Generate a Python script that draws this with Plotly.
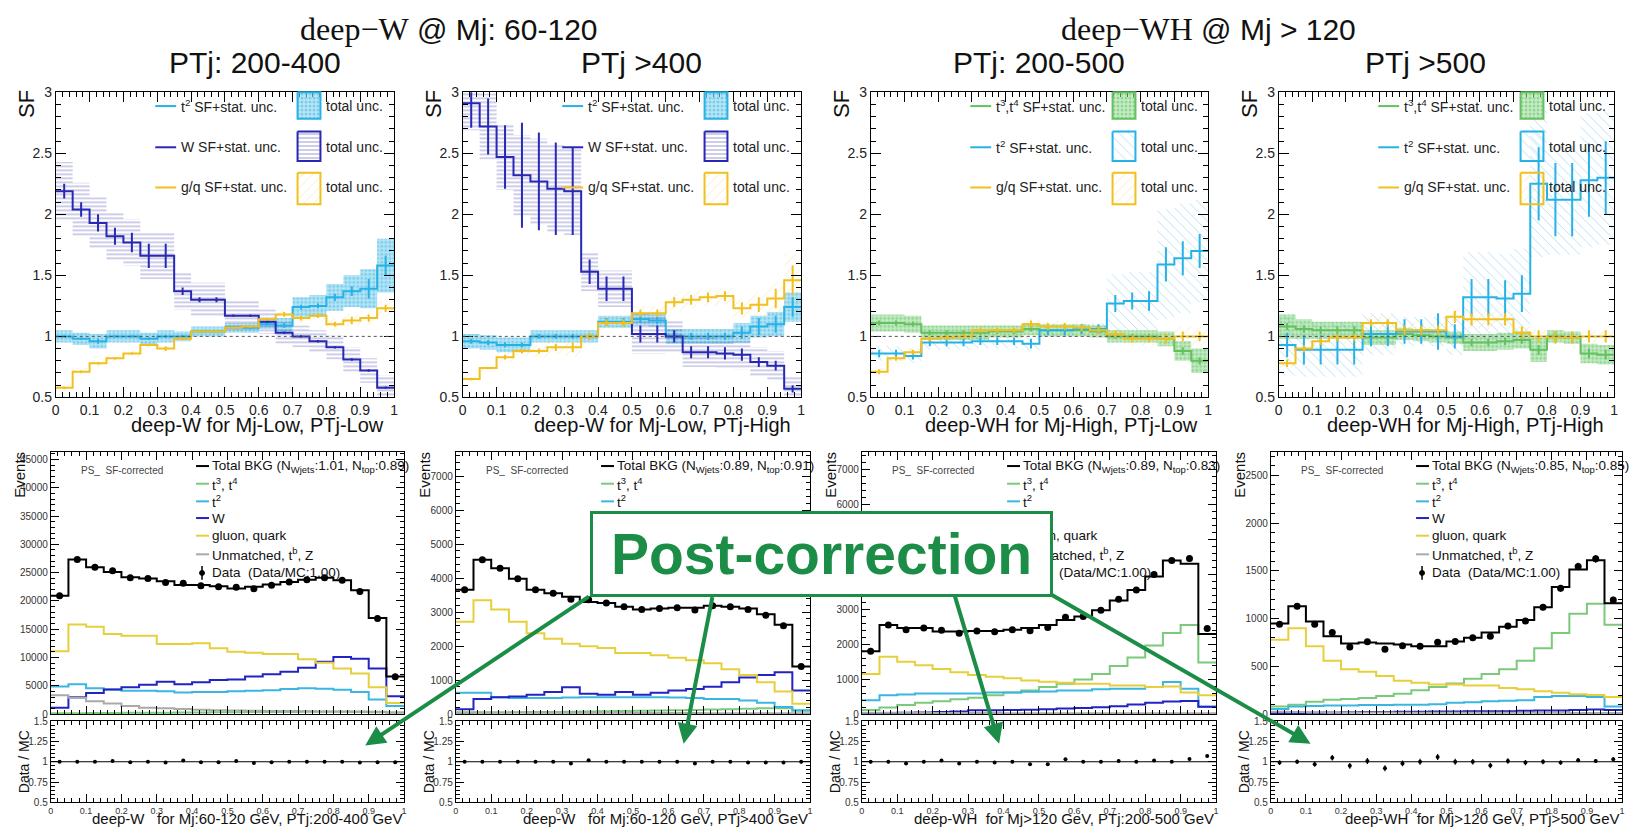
import plotly.graph_objects as go

FIG_W, FIG_H = 1638, 835
SANS = "Liberation Sans, Arial, Helvetica, sans-serif"
SERIF = "Liberation Serif, DejaVu Serif, Times New Roman, serif"
GREEN = "#1b8d47"

# 20 uniform bins of the tagger score
EDGES = [0.0, 0.05, 0.10, 0.15, 0.20, 0.25, 0.30, 0.35, 0.40, 0.45, 0.50,
         0.55, 0.60, 0.65, 0.70, 0.75, 0.80, 0.85, 0.90, 0.95, 1.0]
CENTERS = [0.025, 0.075, 0.125, 0.175, 0.225, 0.275, 0.325, 0.375, 0.425, 0.475,
           0.525, 0.575, 0.625, 0.675, 0.725, 0.775, 0.825, 0.875, 0.925, 0.975]

# ---------------- scale factors: deep-W, Mj 60-120, PTj 200-400 ----------------
sf1_t2 = [1.00, 0.98, 0.96, 1.00, 1.00, 0.98, 1.00, 1.00, 1.04, 1.04, 1.07, 1.07, 1.10, 1.09, 1.24, 1.25, 1.32, 1.37, 1.39, 1.58]
sf1_t2_stat = [0.01, 0.01, 0.02, 0.01, 0.01, 0.01, 0.01, 0.01, 0.01, 0.01, 0.01, 0.01, 0.01, 0.02, 0.02, 0.02, 0.03, 0.04, 0.08, 0.08]
sf1_t2_tot = [0.05, 0.05, 0.06, 0.05, 0.05, 0.05, 0.05, 0.04, 0.04, 0.04, 0.04, 0.04, 0.04, 0.06, 0.08, 0.09, 0.11, 0.13, 0.16, 0.22]
sf1_w = [2.19, 2.04, 1.93, 1.82, 1.77, 1.66, 1.66, 1.37, 1.30, 1.30, 1.17, 1.17, 1.12, 1.03, 1.00, 0.96, 0.91, 0.81, 0.72, 0.58]
sf1_w_stat = [0.06, 0.06, 0.07, 0.07, 0.08, 0.10, 0.10, 0.03, 0.02, 0.02, 0.01, 0.01, 0.01, 0.01, 0.01, 0.01, 0.01, 0.01, 0.01, 0.01]
sf1_w_tot = [0.24, 0.22, 0.21, 0.20, 0.19, 0.19, 0.19, 0.15, 0.14, 0.14, 0.12, 0.12, 0.10, 0.09, 0.09, 0.09, 0.10, 0.10, 0.10, 0.10]
sf1_gq = [0.58, 0.71, 0.78, 0.82, 0.86, 0.93, 0.90, 0.98, 1.04, 1.04, 1.07, 1.08, 1.14, 1.18, 1.15, 1.17, 1.10, 1.13, 1.15, 1.23]
sf1_gq_stat = [0.01, 0.01, 0.01, 0.01, 0.01, 0.01, 0.02, 0.01, 0.01, 0.01, 0.01, 0.01, 0.01, 0.02, 0.02, 0.02, 0.02, 0.03, 0.03, 0.03]
sf1_gq_tot = [0.03, 0.03, 0.03, 0.03, 0.03, 0.03, 0.03, 0.03, 0.03, 0.03, 0.03, 0.03, 0.03, 0.04, 0.04, 0.04, 0.05, 0.05, 0.06, 0.06]

# ---------------- scale factors: deep-W, Mj 60-120, PTj > 400 ----------------
sf2_t2 = [0.96, 0.95, 0.93, 0.93, 1.00, 1.00, 1.00, 1.00, 1.12, 1.12, 1.14, 1.13, 1.00, 1.00, 1.00, 1.00, 1.03, 1.08, 1.10, 1.24]
sf2_t2_stat = [0.02, 0.02, 0.02, 0.02, 0.02, 0.02, 0.02, 0.02, 0.03, 0.03, 0.03, 0.03, 0.03, 0.03, 0.03, 0.03, 0.05, 0.07, 0.07, 0.08]
sf2_t2_tot = [0.06, 0.06, 0.06, 0.06, 0.05, 0.05, 0.05, 0.05, 0.05, 0.05, 0.05, 0.05, 0.06, 0.06, 0.06, 0.06, 0.08, 0.09, 0.10, 0.12]
sf2_w = [2.91, 2.72, 2.47, 2.32, 2.27, 2.21, 2.19, 1.53, 1.39, 1.39, 1.02, 1.02, 1.00, 0.87, 0.87, 0.86, 0.85, 0.79, 0.76, 0.57]
sf2_w_stat = [0.20, 0.23, 0.26, 0.43, 0.40, 0.38, 0.36, 0.10, 0.10, 0.10, 0.07, 0.07, 0.05, 0.05, 0.05, 0.05, 0.05, 0.04, 0.04, 0.03]
sf2_w_tot = [0.22, 0.27, 0.27, 0.33, 0.35, 0.36, 0.36, 0.16, 0.15, 0.15, 0.16, 0.16, 0.13, 0.12, 0.12, 0.12, 0.12, 0.12, 0.12, 0.10]
sf2_gq = [0.65, 0.74, 0.83, 0.88, 0.88, 0.91, 0.91, 1.00, 1.11, 1.11, 1.19, 1.19, 1.28, 1.30, 1.32, 1.33, 1.23, 1.26, 1.31, 1.46]
sf2_gq_stat = [0.01, 0.01, 0.02, 0.02, 0.02, 0.03, 0.04, 0.03, 0.03, 0.03, 0.03, 0.03, 0.04, 0.04, 0.04, 0.04, 0.05, 0.06, 0.08, 0.12]
sf2_gq_tot = [0.03, 0.03, 0.04, 0.04, 0.05, 0.06, 0.07, 0.05, 0.05, 0.05, 0.06, 0.06, 0.07, 0.07, 0.07, 0.07, 0.08, 0.10, 0.14, 0.22]

# ---------------- scale factors: deep-WH, Mj > 120, PTj 200-500 ----------------
sf3_t34 = [1.11, 1.11, 1.10, 1.03, 1.03, 1.03, 1.03, 1.04, 1.04, 1.06, 1.05, 1.05, 1.05, 1.04, 1.00, 1.00, 1.00, 0.98, 0.88, 0.80]
sf3_t34_stat = [0.02, 0.02, 0.02, 0.02, 0.02, 0.02, 0.02, 0.02, 0.02, 0.02, 0.02, 0.02, 0.02, 0.02, 0.02, 0.02, 0.02, 0.03, 0.03, 0.03]
sf3_t34_tot = [0.07, 0.07, 0.07, 0.06, 0.06, 0.06, 0.06, 0.05, 0.05, 0.05, 0.05, 0.05, 0.05, 0.05, 0.05, 0.05, 0.05, 0.06, 0.08, 0.10]
sf3_t2 = [0.86, 0.86, 0.84, 0.95, 0.95, 0.95, 0.96, 0.96, 0.96, 0.94, 1.05, 1.05, 1.06, 1.06, 1.27, 1.29, 1.29, 1.59, 1.64, 1.70]
sf3_t2_stat = [0.03, 0.03, 0.03, 0.03, 0.03, 0.03, 0.03, 0.03, 0.03, 0.04, 0.04, 0.04, 0.04, 0.04, 0.07, 0.07, 0.08, 0.14, 0.14, 0.14]
sf3_t2_tot = [0.06, 0.06, 0.06, 0.06, 0.06, 0.06, 0.06, 0.06, 0.06, 0.06, 0.05, 0.05, 0.05, 0.05, 0.24, 0.24, 0.24, 0.45, 0.45, 0.42]
sf3_gq = [0.71, 0.82, 0.87, 0.98, 0.99, 1.00, 1.05, 1.05, 1.05, 1.10, 1.08, 1.08, 1.07, 1.05, 1.02, 0.98, 0.98, 0.98, 1.00, 1.00]
sf3_gq_stat = [0.02, 0.02, 0.02, 0.02, 0.02, 0.02, 0.02, 0.02, 0.02, 0.03, 0.03, 0.03, 0.03, 0.03, 0.03, 0.03, 0.03, 0.04, 0.04, 0.04]
sf3_gq_tot = [0.03, 0.04, 0.04, 0.05, 0.05, 0.05, 0.05, 0.05, 0.05, 0.05, 0.05, 0.05, 0.05, 0.05, 0.05, 0.06, 0.06, 0.07, 0.08, 0.08]

# ---------------- scale factors: deep-WH, Mj > 120, PTj > 500 ----------------
sf4_t34 = [1.08, 1.06, 1.05, 1.05, 1.05, 0.99, 0.99, 1.02, 1.01, 1.00, 0.99, 0.95, 0.95, 0.96, 0.97, 0.89, 1.00, 0.99, 0.86, 0.85]
sf4_t34_stat = [0.03, 0.03, 0.03, 0.03, 0.03, 0.03, 0.03, 0.03, 0.03, 0.03, 0.03, 0.03, 0.03, 0.03, 0.03, 0.04, 0.04, 0.04, 0.04, 0.04]
sf4_t34_tot = [0.10, 0.08, 0.07, 0.07, 0.07, 0.06, 0.06, 0.05, 0.05, 0.05, 0.05, 0.07, 0.07, 0.07, 0.07, 0.10, 0.05, 0.05, 0.08, 0.08]
sf4_t2 = [0.93, 0.89, 0.89, 0.89, 0.89, 1.02, 1.02, 1.04, 1.04, 1.04, 1.00, 1.32, 1.32, 1.31, 1.35, 2.25, 2.12, 2.12, 2.28, 2.30]
sf4_t2_stat = [0.10, 0.12, 0.12, 0.12, 0.12, 0.10, 0.10, 0.10, 0.10, 0.15, 0.10, 0.15, 0.15, 0.15, 0.15, 0.30, 0.30, 0.30, 0.30, 0.30]
sf4_t2_tot = [0.25, 0.22, 0.22, 0.22, 0.22, 0.17, 0.17, 0.12, 0.12, 0.12, 0.15, 0.37, 0.37, 0.37, 0.37, 0.60, 0.45, 0.45, 0.55, 0.55]
sf4_gq = [0.78, 0.90, 0.96, 0.99, 0.99, 1.11, 1.11, 1.05, 1.05, 1.05, 1.16, 1.14, 1.14, 1.14, 1.03, 1.00, 0.99, 0.99, 1.00, 1.00]
sf4_gq_stat = [0.03, 0.03, 0.03, 0.03, 0.03, 0.03, 0.03, 0.04, 0.04, 0.04, 0.05, 0.05, 0.05, 0.05, 0.05, 0.05, 0.05, 0.05, 0.05, 0.05]
sf4_gq_tot = [0.04, 0.05, 0.05, 0.05, 0.05, 0.06, 0.06, 0.06, 0.06, 0.06, 0.08, 0.08, 0.08, 0.08, 0.06, 0.05, 0.05, 0.05, 0.05, 0.05]

# ---------------- corrected yields per category ----------------
h1_total = [20900, 27300, 25950, 25100, 24200, 23950, 23500, 22800, 22800, 22600, 22200, 22500, 22900, 23350, 23750, 24100, 23650, 21900, 17000, 6650]
h1_t34 = [150, 170, 200, 210, 240, 250, 270, 290, 310, 330, 350, 380, 390, 410, 430, 460, 470, 490, 440, 310]
h1_t2 = [4900, 5300, 4600, 4350, 4150, 4150, 4050, 3850, 3900, 3900, 4050, 4150, 4250, 4450, 4600, 4500, 4300, 3900, 2600, 1450]
h1_w = [1150, 3000, 3750, 4350, 4750, 5200, 5750, 5300, 5650, 6050, 6150, 6650, 7050, 7500, 8200, 9250, 10100, 9800, 8050, 3150]
h1_gq = [11100, 15850, 15450, 14150, 13850, 13850, 12400, 12400, 12550, 11650, 11050, 10850, 10650, 10650, 9700, 9100, 8050, 7200, 4750, 2000]
h1_unm = [3350, 2900, 2300, 1900, 1450, 1150, 1050, 900, 800, 700, 650, 600, 550, 550, 500, 450, 420, 400, 350, 300]

h2_total = [3660, 4540, 4290, 3980, 3660, 3560, 3450, 3300, 3270, 3160, 3080, 3110, 3130, 3130, 3190, 3160, 3110, 2940, 2630, 1400]
h2_t34 = [35, 45, 50, 58, 62, 66, 72, 78, 84, 92, 98, 106, 116, 124, 138, 148, 160, 172, 178, 105]
h2_t2 = [630, 630, 500, 480, 480, 480, 490, 500, 500, 500, 500, 500, 490, 480, 450, 450, 400, 340, 210, 115]
h2_w = [145, 450, 500, 520, 570, 650, 790, 600, 570, 650, 570, 630, 700, 740, 810, 940, 1080, 1150, 1230, 700]
h2_gq = [2720, 3350, 3080, 2720, 2380, 2220, 2070, 2000, 1950, 1800, 1800, 1730, 1660, 1590, 1500, 1320, 1150, 940, 670, 310]
h2_unm = [60, 55, 50, 50, 45, 45, 40, 40, 40, 40, 35, 35, 35, 35, 30, 30, 30, 30, 30, 25]

h3_total = [1800, 2550, 2460, 2460, 2360, 2360, 2380, 2380, 2410, 2460, 2550, 2690, 2790, 2970, 3250, 3550, 3930, 4390, 4300, 2290]
h3_t34 = [120, 190, 260, 330, 370, 430, 470, 540, 620, 680, 780, 870, 990, 1150, 1380, 1620, 1960, 2320, 2550, 1480]
h3_t2 = [400, 540, 560, 590, 590, 590, 590, 620, 620, 640, 650, 680, 680, 710, 730, 730, 780, 920, 730, 210]
h3_w = [30, 35, 40, 50, 60, 80, 110, 115, 120, 130, 140, 160, 180, 200, 230, 280, 330, 360, 380, 210]
h3_gq = [1150, 1640, 1500, 1400, 1290, 1200, 1120, 1070, 1030, 960, 930, 900, 870, 870, 820, 820, 780, 790, 620, 540]
h3_unm = [40, 40, 40, 40, 35, 35, 35, 35, 30, 30, 30, 30, 30, 30, 30, 30, 30, 30, 30, 30]

h4_total = [950, 1130, 970, 815, 740, 750, 740, 730, 710, 710, 760, 800, 855, 915, 985, 1120, 1330, 1515, 1610, 1160]
h4_t34 = [80, 100, 130, 150, 160, 170, 190, 215, 250, 285, 320, 370, 420, 470, 560, 690, 850, 1050, 1155, 935]
h4_t2 = [55, 80, 85, 90, 90, 95, 95, 100, 100, 105, 120, 125, 135, 140, 145, 180, 190, 190, 180, 80]
h4_w = [10, 12, 15, 18, 20, 22, 22, 25, 25, 28, 28, 30, 30, 32, 35, 38, 40, 45, 50, 45]
h4_gq = [780, 900, 710, 560, 470, 445, 400, 350, 330, 310, 310, 300, 300, 275, 260, 240, 225, 210, 200, 180]
h4_unm = [25, 22, 20, 20, 18, 18, 18, 16, 16, 15, 15, 15, 15, 14, 14, 14, 14, 13, 13, 12]

# ---------------- Data / MC ratio and its uncertainty ----------------
r1 = [1.00, 1.00, 1.00, 1.01, 0.995, 1.00, 0.99, 1.015, 0.995, 0.995, 1.01, 0.985, 0.995, 1.00, 1.00, 1.00, 1.00, 0.99, 0.995, 0.995]
r1_err = [0.005, 0.005, 0.005, 0.005, 0.005, 0.005, 0.005, 0.005, 0.005, 0.005, 0.005, 0.005, 0.005, 0.005, 0.005, 0.005, 0.005, 0.005, 0.006, 0.01]
r2 = [1.00, 1.00, 1.00, 1.00, 1.00, 1.00, 0.98, 1.02, 1.00, 1.00, 1.00, 1.00, 1.00, 0.98, 1.00, 1.00, 0.99, 0.99, 0.99, 1.00]
r2_err = [0.012, 0.01, 0.01, 0.012, 0.012, 0.012, 0.012, 0.012, 0.012, 0.012, 0.012, 0.012, 0.012, 0.012, 0.012, 0.012, 0.012, 0.012, 0.014, 0.02]
r3 = [1.00, 1.00, 0.98, 1.00, 1.015, 0.98, 1.00, 0.99, 1.00, 0.97, 0.97, 1.03, 1.00, 1.00, 1.01, 1.00, 1.015, 1.00, 1.035, 1.07]
r3_err = [0.02, 0.017, 0.017, 0.017, 0.017, 0.017, 0.017, 0.017, 0.017, 0.017, 0.017, 0.017, 0.016, 0.016, 0.015, 0.014, 0.013, 0.012, 0.012, 0.017]
r4 = [0.99, 1.00, 0.97, 1.05, 0.95, 1.01, 0.92, 0.98, 1.00, 1.06, 1.00, 1.00, 0.955, 1.01, 0.99, 1.00, 0.99, 1.02, 1.01, 1.03]
r4_err = [0.03, 0.028, 0.03, 0.034, 0.036, 0.036, 0.036, 0.036, 0.037, 0.037, 0.036, 0.035, 0.034, 0.033, 0.032, 0.03, 0.027, 0.025, 0.025, 0.029]

# ---------------- text ----------------
GROUP_TITLES = [("deep−W", "@ Mj: 60-120"), ("deep−WH", "@ Mj > 120")]
PT_TITLES = ["PTj: 200-400", "PTj >400", "PTj: 200-500", "PTj >500"]
SF_XTITLES = ["deep-W for Mj-Low, PTj-Low", "deep-W for Mj-Low, PTj-High",
              "deep-WH for Mj-High, PTj-Low", "deep-WH for Mj-High, PTj-High"]
HIST_XTITLES = ["deep-W\u00a0\u00a0\u00a0for Mj:60-120 GeV, PTj:200-400 GeV",
                "deep-W\u00a0\u00a0\u00a0for Mj:60-120 GeV, PTj>400 GeV",
                "deep-WH\u00a0\u00a0for Mj>120 GeV, PTj:200-500 GeV",
                "deep-WH\u00a0\u00a0for Mj>120 GeV, PTj>500 GeV"]
NORM_WJETS = ["1.01", "0.89", "0.89", "0.85"]
NORM_TOP = ["0.89", "0.91", "0.83", "0.85"]
SF_LABELS = {"t2": "t<sup>2</sup> SF+stat. unc.", "w": "W SF+stat. unc.",
             "gq": "g/q SF+stat. unc.", "t34": "t<sup>3</sup>,t<sup>4</sup> SF+stat. unc."}

# ---------------- geometry (pixels) ----------------
SF_X = [(52, 392), (461, 801), (871, 1210), (1281, 1618)]
SF_Y = (86, 397)
HIST_X = [(47, 402), (454, 810), (862, 1218), (1273, 1626)]
HIST_Y = (453, 720)
RATIO_Y = (727, 810)
HIST_YMAX = [46250, 7700, 7480, 2740]
HIST_DTICK = [5000, 1000, 1000, 500]
HIST_MINOR = [1000, 200, 200, 100]
PT_TITLE_X = [252, 641, 1040, 1428]
GROUP_TITLE_X = [447, 1210]

# ---------------- styles ----------------
SF_COL = {"t2": "#27b2e6", "w": "#2828b4", "gq": "#f1c01f", "t34": "#63c15f"}
BAND = {
    "dots_t2": dict(shape=".", fgcolor="#3ab4e0", bgcolor="rgba(140,214,240,0.6)", size=4, solidity=0.45),
    "hatch_t2": dict(shape="\\", fgcolor="rgba(45,170,225,0.8)", bgcolor="rgba(255,255,255,0)", size=7, solidity=0.12),
    "w": dict(shape="-", fgcolor="rgba(45,45,160,0.8)", bgcolor="rgba(255,255,255,0)", size=4, solidity=0.3),
    "gq": dict(shape="/", fgcolor="rgba(240,190,30,0.65)", bgcolor="rgba(255,255,255,0)", size=7, solidity=0.12),
    "t34": dict(shape=".", fgcolor="#62c062", bgcolor="rgba(150,220,150,0.55)", size=4, solidity=0.45),
}
H_COL = {"t34": "#7bc97b", "t2": "#3ab6e2", "w": "#2323c2", "gq": "#e7cf3c", "unm": "#a9a9a9", "total": "#000000"}

SF_PANELS = [
    [("t2", sf1_t2, sf1_t2_stat, sf1_t2_tot, "dots_t2"), ("w", sf1_w, sf1_w_stat, sf1_w_tot, "w"),
     ("gq", sf1_gq, sf1_gq_stat, sf1_gq_tot, "gq")],
    [("t2", sf2_t2, sf2_t2_stat, sf2_t2_tot, "dots_t2"), ("w", sf2_w, sf2_w_stat, sf2_w_tot, "w"),
     ("gq", sf2_gq, sf2_gq_stat, sf2_gq_tot, "gq")],
    [("t34", sf3_t34, sf3_t34_stat, sf3_t34_tot, "t34"), ("t2", sf3_t2, sf3_t2_stat, sf3_t2_tot, "hatch_t2"),
     ("gq", sf3_gq, sf3_gq_stat, sf3_gq_tot, "gq")],
    [("t34", sf4_t34, sf4_t34_stat, sf4_t34_tot, "t34"), ("t2", sf4_t2, sf4_t2_stat, sf4_t2_tot, "hatch_t2"),
     ("gq", sf4_gq, sf4_gq_stat, sf4_gq_tot, "gq")],
]
HIST_PANELS = [
    dict(t34=h1_t34, t2=h1_t2, w=h1_w, gq=h1_gq, unm=h1_unm, total=h1_total, ratio=r1, rerr=r1_err),
    dict(t34=h2_t34, t2=h2_t2, w=h2_w, gq=h2_gq, unm=h2_unm, total=h2_total, ratio=r2, rerr=r2_err),
    dict(t34=h3_t34, t2=h3_t2, w=h3_w, gq=h3_gq, unm=h3_unm, total=h3_total, ratio=r3, rerr=r3_err),
    dict(t34=h4_t34, t2=h4_t2, w=h4_w, gq=h4_gq, unm=h4_unm, total=h4_total, ratio=r4, rerr=r4_err),
]


def fx(px):
    return px / FIG_W


def fy(py):
    return 1 - py / FIG_H


def ax_names(n):
    s = "" if n == 1 else str(n)
    return "xaxis" + s, "yaxis" + s, "x" + s, "y" + s


def step_y(vals):
    return list(vals) + [vals[-1]]


def band_xy(vals, unc):
    xs, ys = [], []
    for i, v in enumerate(vals):
        xs += [EDGES[i], EDGES[i + 1]]
        ys += [v + unc[i], v + unc[i]]
    for i in range(len(vals) - 1, -1, -1):
        xs += [EDGES[i + 1], EDGES[i]]
        ys += [vals[i] - unc[i], vals[i] - unc[i]]
    return xs + [xs[0]], ys + [ys[0]]


def bars_xy(vals, err):
    xs, ys = [], []
    for c, v, e in zip(CENTERS, vals, err):
        xs += [c, c, None]
        ys += [v - e, v + e, None]
    return xs, ys


def label(text, px, py, size, xanchor="center", yanchor="middle", color="#111", family=SANS, **kw):
    d = dict(text=text, x=fx(px), y=fy(py), xref="paper", yref="paper",
             xanchor=xanchor, yanchor=yanchor, showarrow=False,
             font=dict(family=family, size=size, color=color))
    d.update(kw)
    return d


def frame_axis(**kw):
    base = dict(showline=True, linecolor="black", linewidth=1, mirror="allticks",
                ticks="inside", ticklen=9, tickwidth=1, tickcolor="black",
                showgrid=False, zeroline=False, fixedrange=True,
                tickfont=dict(family=SANS, size=13, color="#222"))
    base.update(kw)
    return base


fig = go.Figure()
layout = {}
shapes = []
annotations = []

# ---------------- scale-factor panels ----------------
for i, series in enumerate(SF_PANELS):
    n = i + 1
    xk, yk, xr, yr = ax_names(n)
    l, r = SF_X[i]
    layout[xk] = frame_axis(domain=[fx(l), fx(r)], anchor=yr, range=[0, 1], dtick=0.1, tick0=0,
                            ticklen=10, tickfont=dict(family=SANS, size=14, color="#222"),
                            minor=dict(dtick=0.02, ticks="inside", ticklen=5, tickcolor="black"))
    layout[yk] = frame_axis(domain=[fy(SF_Y[1]), fy(SF_Y[0])], anchor=xr, range=[0.5, 3], dtick=0.5, tick0=0.5,
                            ticklen=10, tickfont=dict(family=SANS, size=14, color="#222"),
                            minor=dict(dtick=0.1, ticks="inside", ticklen=5, tickcolor="black"))
    for key, vals, stat, tot, bstyle in series:
        bx, by = band_xy(vals, tot)
        fig.add_trace(go.Scatter(x=bx, y=by, xaxis=xr, yaxis=yr, mode="none", fill="toself",
                                 fillcolor=BAND[bstyle]["bgcolor"], fillpattern=BAND[bstyle],
                                 hoverinfo="skip", showlegend=False))
    for key, vals, stat, tot, bstyle in series:
        fig.add_trace(go.Scatter(x=EDGES, y=step_y(vals), xaxis=xr, yaxis=yr, mode="lines",
                                 line=dict(color=SF_COL[key], width=2, shape="hv"),
                                 hoverinfo="skip", showlegend=False))
        ex, ey = bars_xy(vals, stat)
        fig.add_trace(go.Scatter(x=ex, y=ey, xaxis=xr, yaxis=yr, mode="lines",
                                 line=dict(color=SF_COL[key], width=2),
                                 hoverinfo="skip", showlegend=False))
    shapes.append(dict(type="line", xref=xr, yref=yr, x0=0, x1=1, y0=1, y1=1,
                       line=dict(color="#555", width=1, dash="dot"), layer="above"))
    # axis titles and panel title
    annotations.append(label("SF", l - 30, 98, 22, textangle=-90))
    annotations.append(label(SF_XTITLES[i], r - 8, 425, 20, xanchor="right"))
    annotations.append(label(PT_TITLES[i], PT_TITLE_X[i], 56, 30))
    # legend block: line sample + label, then total-unc. swatch
    rows_y = [100, 142, 183]
    box_rows = [(86, 113), (126, 156), (168, 200)]
    for (key, vals, stat, tot, bstyle), ry, (bt, bb) in zip(series, rows_y, box_rows):
        shapes.append(dict(type="line", xref="paper", yref="paper", x0=fx(l + 100), x1=fx(l + 121),
                           y0=fy(ry), y1=fy(ry), line=dict(color=SF_COL[key], width=2)))
        annotations.append(label(SF_LABELS[key], l + 124, ry, 14, xanchor="left", color="#222"))
        bx0, bx1 = l + 243, l + 266
        fig.add_trace(go.Scatter(x=[bx0, bx1, bx1, bx0, bx0], y=[bt, bt, bb, bb, bt], xaxis="x13", yaxis="y13",
                                 mode="lines", fill="toself", fillcolor=BAND[bstyle]["bgcolor"],
                                 fillpattern=BAND[bstyle], line=dict(color=SF_COL[key], width=2),
                                 hoverinfo="skip", showlegend=False))
        annotations.append(label("total unc.", l + 270, ry, 14, xanchor="left", color="#222"))

# group titles (serif tagger name, sans selection)
for (tag, sel), cx in zip(GROUP_TITLES, GROUP_TITLE_X):
    annotations.append(label(f'<span style="font-family:{SERIF}; font-size:32px">{tag}</span> {sel}',
                             cx, 21, 30))

# ---------------- yield panels and ratio panels ----------------
HIST_ORDER = ["t34", "t2", "w", "gq", "unm", "total"]
for i, hp in enumerate(HIST_PANELS):
    nh, nr = i + 5, i + 9
    xk, yk, xr, yr = ax_names(nh)
    xk2, yk2, xr2, yr2 = ax_names(nr)
    l, r = HIST_X[i]
    layout[xk] = frame_axis(domain=[fx(l), fx(r)], anchor=yr, range=[0, 1], dtick=0.1, tick0=0,
                            showticklabels=False, ticklen=8,
                            minor=dict(dtick=0.02, ticks="inside", ticklen=4, tickcolor="black"))
    layout[yk] = frame_axis(domain=[fy(HIST_Y[1]), fy(HIST_Y[0])], anchor=xr, range=[0, HIST_YMAX[i]],
                            dtick=HIST_DTICK[i], tick0=0, ticklen=8, tickformat="d",
                            tickfont=dict(family=SANS, size=10, color="#333"),
                            minor=dict(dtick=HIST_MINOR[i], ticks="inside", ticklen=4, tickcolor="black"))
    layout[xk2] = frame_axis(domain=[fx(l), fx(r)], anchor=yr2, range=[0, 1], dtick=0.1, tick0=0,
                             ticklen=8, tickfont=dict(family=SANS, size=9, color="#333"),
                             minor=dict(dtick=0.02, ticks="inside", ticklen=4, tickcolor="black"))
    layout[yk2] = frame_axis(domain=[fy(RATIO_Y[1]), fy(RATIO_Y[0])], anchor=xr2, range=[0.5, 1.5],
                             tickvals=[0.5, 0.75, 1, 1.25, 1.5], ticktext=["0.5", "0.75", "1", "1.25", "1.5"],
                             ticklen=8, tickfont=dict(family=SANS, size=10, color="#333"),
                             minor=dict(dtick=0.05, tick0=0.5, ticks="inside", ticklen=4, tickcolor="black"))
    for key in HIST_ORDER:
        fig.add_trace(go.Scatter(x=EDGES, y=step_y(hp[key]), xaxis=xr, yaxis=yr, mode="lines",
                                 line=dict(color=H_COL[key], width=2, shape="hv"),
                                 hoverinfo="skip", showlegend=False))
    data = [t * q for t, q in zip(hp["total"], hp["ratio"])]
    data_err = [d * e for d, e in zip(data, hp["rerr"])]
    fig.add_trace(go.Scatter(x=CENTERS, y=data, xaxis=xr, yaxis=yr, mode="markers",
                             marker=dict(color="black", size=7),
                             error_y=dict(type="data", array=data_err, color="black", thickness=1.2, width=0),
                             hoverinfo="skip", showlegend=False))
    # ratio
    shapes.append(dict(type="line", xref=xr2, yref=yr2, x0=0, x1=1, y0=1, y1=1,
                       line=dict(color="black", width=1.2)))
    fig.add_trace(go.Scatter(x=CENTERS, y=hp["ratio"], xaxis=xr2, yaxis=yr2, mode="markers",
                             marker=dict(color="black", size=4),
                             error_y=dict(type="data", array=hp["rerr"], color="black", thickness=1.2, width=0),
                             hoverinfo="skip", showlegend=False))
    # axis titles
    annotations.append(label("Events", l - 31, 476, 15, textangle=-90))
    annotations.append(label("Data / MC", l - 27, 768, 14, textangle=-90))
    annotations.append(label(HIST_XTITLES[i], r, 826, 15, xanchor="right"))
    # legend
    annotations.append(label("PS_\u00a0\u00a0SF-corrected", l + 28, 472, 10, xanchor="left", color="#444"))
    entries = [("total", f"Total BKG (N<sub>Wjets</sub>:{NORM_WJETS[i]}, N<sub>top</sub>:{NORM_TOP[i]})"),
               ("t34", "t<sup>3</sup>, t<sup>4</sup>"), ("t2", "t<sup>2</sup>"), ("w", "W"),
               ("gq", "gluon, quark"), ("unm", "Unmatched, t<sup>b</sup>, Z"),
               ("data", "Data\u00a0\u00a0(Data/MC:1.00)")]
    for (key, text), ry in zip(entries, [467, 485, 503, 520, 538, 557, 576]):
        if key == "data":
            shapes.append(dict(type="line", xref="paper", yref="paper", x0=fx(l + 152), x1=fx(l + 152),
                               y0=fy(ry - 7), y1=fy(ry + 7), line=dict(color="black", width=1.5)))
            shapes.append(dict(type="circle", xref="paper", yref="paper", x0=fx(l + 149.5), x1=fx(l + 154.5),
                               y0=fy(ry - 2.5), y1=fy(ry + 2.5), fillcolor="black", line=dict(color="black", width=1)))
        else:
            shapes.append(dict(type="line", xref="paper", yref="paper", x0=fx(l + 146), x1=fx(l + 159),
                               y0=fy(ry), y1=fy(ry), line=dict(color=H_COL[key], width=2)))
        annotations.append(label(text, l + 160, ry, 13.5, xanchor="left"))

# pixel-space overlay used for legend swatches
layout["xaxis13"] = dict(domain=[0, 1], range=[0, FIG_W], visible=False, fixedrange=True, anchor="y13")
layout["yaxis13"] = dict(domain=[0, 1], range=[FIG_H, 0], visible=False, fixedrange=True, anchor="x13")

# call-out arrows and box
for (tx, ty), (hx, hy) in [((588, 602), (363, 752)), ((712, 602), (683, 750)),
                           ((955, 600), (1000, 750)), ((1052, 600), (1313, 750))]:
    annotations.append(dict(text="", x=fx(hx), y=fy(hy), xref="paper", yref="paper",
                            ax=tx - hx, ay=ty - hy, axref="pixel", ayref="pixel",
                            showarrow=True, arrowhead=2, arrowsize=1, arrowwidth=4,
                            arrowcolor=GREEN, standoff=0, startstandoff=0))
annotations.append(label("<b>Post-correction</b>", 821.5, 557, 57, color=GREEN,
                         width=457, height=80, align="center", valign="middle",
                         bgcolor="white", bordercolor=GREEN, borderwidth=3, borderpad=0))

fig.update_layout(width=FIG_W, height=FIG_H, margin=dict(l=0, r=0, t=0, b=0),
                  paper_bgcolor="white", plot_bgcolor="rgba(0,0,0,0)",
                  showlegend=False, shapes=shapes, annotations=annotations, **layout)

fig.write_html("out.html")
